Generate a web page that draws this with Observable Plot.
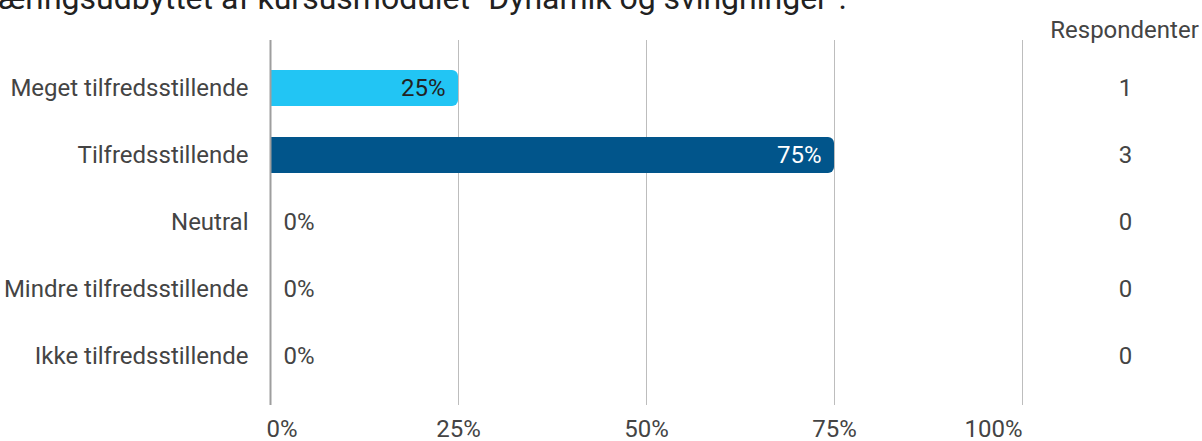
<!DOCTYPE html>
<html>
<head>
<meta charset="utf-8">
<script src="https://cdn.jsdelivr.net/npm/d3@7"></script>
<script src="https://cdn.jsdelivr.net/npm/@observablehq/plot@0.6"></script>
<style>
  html, body { margin: 0; padding: 0; background: #fff; }
  #title { position: relative; height: 15px; overflow: hidden; width: 1202px; }
  #title span { position: absolute; top: -18.4px; left: -19px; white-space: nowrap;
    font-family: Roboto, sans-serif; font-size: 32px; line-height: 32px; color: #212121; }
  #chart svg { display: block; }
</style>
</head>
<body>
<div id="title"><span>Læringsudbyttet af kursusmodulet "Dynamik og svingninger".</span></div>
<div id="chart"></div>
<script>
const categories = ["Meget tilfredsstillende", "Tilfredsstillende", "Neutral", "Mindre tilfredsstillende", "Ikke tilfredsstillende"];
const percents = [25, 75, 0, 0, 0];
const respondents = [1, 3, 0, 0, 0];
const barColors = ["#22c5f4", "#01558b", "#22c5f4", "#22c5f4", "#22c5f4"];
const labelColors = ["#222222", "#ffffff", "#444444", "#444444", "#444444"];
const xTicks = [0, 25, 50, 75, 100];
const columnHeader = "Respondenter";

const data = categories.map((c, i) => ({
  cat: c, pct: percents[i], n: respondents[i], color: barColors[i], label: labelColors[i]
}));
const nonZero = data.filter(d => d.pct > 0);
const zero = data.filter(d => d.pct === 0);

const W = 1202, H = 426;
const txt = "#444444";

const chart = Plot.plot({
  width: W,
  height: H,
  marginLeft: 270,
  marginRight: 180,
  marginTop: 25,
  marginBottom: 36,
  style: { fontFamily: "Roboto, sans-serif", fontSize: "24px", color: txt, background: "#fff" },
  x: { domain: [0, 100], axis: null },
  y: { domain: categories, paddingInner: 0.456, paddingOuter: 0.45, axis: null },
  marks: [
    Plot.ruleX(xTicks.filter(t => t > 0), { stroke: "#bdbdbd", strokeWidth: 1 }),
    Plot.barX(nonZero, { y: "cat", x1: 0, x2: d => d.pct - 2, fill: d => d.color }),
    Plot.barX(nonZero, { y: "cat", x1: 0, x2: "pct", fill: d => d.color, rx: 6 }),
    Plot.ruleX([0], { stroke: "#9e9e9e", strokeWidth: 2 }),
    Plot.text(nonZero, { y: "cat", x: "pct", text: d => d.pct + "%", textAnchor: "end", dx: -13, fill: d => d.label }),
    Plot.text(zero, { y: "cat", x: "pct", text: d => d.pct + "%", textAnchor: "start", dx: 13, fill: d => d.label }),
    Plot.text(data, { y: "cat", text: "cat", frameAnchor: "left", textAnchor: "end", dx: -22, fill: txt }),
    Plot.text(data, { y: "cat", text: d => String(d.n), frameAnchor: "right", textAnchor: "middle", dx: 103, fill: txt }),
    Plot.text([columnHeader], { text: d => d, frameAnchor: "top-right", textAnchor: "middle", lineAnchor: "middle", dx: 102, dy: -10, fill: txt }),
    Plot.text(xTicks.slice(0, 1), { x: d => d, text: d => d + "%", frameAnchor: "bottom", textAnchor: "start", lineAnchor: "middle", dx: -4, dy: 24, fill: txt }),
    Plot.text(xTicks.slice(1, -1), { x: d => d, text: d => d + "%", frameAnchor: "bottom", textAnchor: "middle", lineAnchor: "middle", dy: 24, fill: txt }),
    Plot.text(xTicks.slice(-1), { x: d => d, text: d => d + "%", frameAnchor: "bottom", textAnchor: "end", lineAnchor: "middle", dy: 24, fill: txt })
  ]
});
document.getElementById("chart").appendChild(chart);
</script>
</body>
</html>
